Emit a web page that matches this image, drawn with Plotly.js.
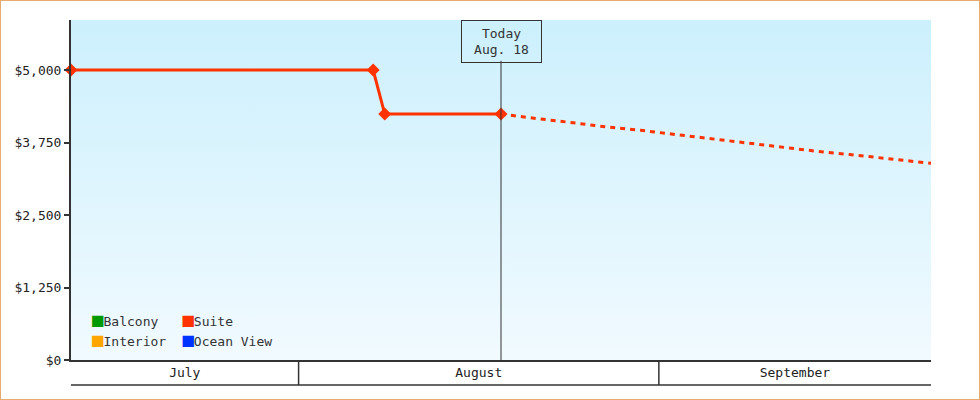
<!DOCTYPE html>
<html>
<head>
<meta charset="utf-8">
<script src="https://cdn.plot.ly/plotly-3.0.1.min.js"></script>
<style>
    html, body { margin: 0; padding: 0; background: #fff; }
    #frame { width: 980px; height: 400px; box-sizing: border-box; border: 1px solid #e9ab6b; }
    #chart { width: 978px; height: 398px; }
</style>
</head>
<body>
<div id="frame"><div id="chart"></div></div>
<script>
// series shown in the legend
var seriesNames = ["Balcony", "Interior", "Suite", "Ocean View"];
var seriesColors = ["#009900", "#ffa500", "#ff3300", "#0033ff"];

// Suite: recorded prices up to today
var suiteDates = ["2019-07-12 10:00", "2019-08-07 10:00", "2019-08-08 10:00", "2019-08-18 10:00"];
var suitePrices = [5000, 5000, 4240, 4240];

// Suite: forecast after today
var forecastDates = ["2019-08-18 10:00", "2019-08-19 10:00", "2019-08-21 10:00", "2019-08-24 10:00",
    "2019-08-27 10:00", "2019-08-30 10:00", "2019-09-02 10:00", "2019-09-05 10:00",
    "2019-09-08 10:00", "2019-09-11 10:00", "2019-09-14 10:00", "2019-09-17 10:00",
    "2019-09-20 10:00", "2019-09-23 10:00", "2019-09-24 10:00"];
var forecastPrices = [4240, 4212, 4165, 4095, 4020, 3960, 3888, 3819, 3750, 3681, 3603, 3543, 3483, 3414, 3391];

var todayDate = "2019-08-18 10:00";
var todayLabel = "Today<br>Aug. 18";

var monthNames = ["July", "August", "September"];
var monthMids = ["2019-07-22 05:00", "2019-08-16 12:00", "2019-09-12 17:00"];
var monthStarts = ["2019-08-01", "2019-09-01"];

var xRange = ["2019-07-12 10:00", "2019-09-24 10:00"];
var yTicks = [0, 1250, 2500, 3750, 5000];
var yTickLabels = ["$0", "$1,250", "$2,500", "$3,750", "$5,000"];

var mono = "DejaVu Sans Mono, monospace";
var ink = "#333333";

var plotData = [];

// legend entries: a coloured square glyph in front of the name, two columns
var legendOf = ["legend", "legend", "legend2", "legend2"];
for (var i = 0; i < seriesNames.length; i++)
{
    plotData.push({
        x: [null],
        y: [null],
        name: '<span style="color:' + seriesColors[i] + ';font-size:19px">\u25A0</span>' + seriesNames[i],
        type: "scatter",
        mode: "markers",
        marker: { symbol: "square", size: 1, color: "rgba(0,0,0,0)" },
        legend: legendOf[i],
        hoverinfo: "skip"
    });
}

plotData.push({
    x: forecastDates,
    y: forecastPrices,
    type: "scatter",
    mode: "lines",
    line: { color: seriesColors[2], width: 3, dash: "5px,5px" },
    showlegend: false,
    cliponaxis: false
});

plotData.push({
    x: suiteDates,
    y: suitePrices,
    type: "scatter",
    mode: "lines+markers",
    line: { color: seriesColors[2], width: 3 },
    marker: { symbol: "diamond", size: 10, color: seriesColors[2] },
    showlegend: false,
    cliponaxis: false
});

var gradient = "data:image/svg+xml;utf8," + encodeURIComponent(
    '<svg xmlns="http://www.w3.org/2000/svg" width="100" height="100" preserveAspectRatio="none">' +
    '<defs><linearGradient id="g" x1="0" y1="0" x2="0" y2="1">' +
    '<stop offset="0" stop-color="#ccf0fd"/><stop offset="1" stop-color="#f1faff"/>' +
    '</linearGradient></defs><rect width="100" height="100" fill="url(#g)"/></svg>');

var bandDepth = 25 / 340;

var shapes = [
    { type: "line", xref: "x", yref: "paper", x0: todayDate, x1: todayDate, y0: 0, y1: 0.88,
      line: { color: ink, width: 1 } },
    { type: "line", xref: "paper", yref: "paper", x0: 0, x1: 1, y0: -bandDepth, y1: -bandDepth,
      line: { color: ink, width: 1.5 } }
];
monthStarts.forEach(function (d)
{
    shapes.push({ type: "line", xref: "x", yref: "paper", x0: d, x1: d, y0: 0, y1: -bandDepth,
        line: { color: ink, width: 1.5 } });
});

var legendStyle = {
    xanchor: "left", yanchor: "bottom",
    bgcolor: "rgba(0,0,0,0)", borderwidth: 0,
    font: { family: mono, size: 13, color: ink },
    itemwidth: 30, tracegroupgap: 0
};

var layout = {
    width: 978,
    height: 398,
    margin: { l: 70, r: 48, t: 19, b: 39 },
    paper_bgcolor: "#ffffff",
    plot_bgcolor: "rgba(0,0,0,0)",
    font: { family: mono, size: 13, color: ink },
    showlegend: true,
    xaxis: {
        type: "date",
        range: xRange,
        showgrid: false,
        zeroline: false,
        showline: true,
        linecolor: ink,
        linewidth: 1.5,
        ticks: "",
        tickvals: monthMids,
        ticktext: monthNames,
        tickfont: { family: mono, size: 13, color: "#222" },
        fixedrange: true
    },
    yaxis: {
        range: [0, 5862],
        showgrid: false,
        zeroline: false,
        showline: true,
        linecolor: ink,
        linewidth: 2,
        ticks: "outside",
        ticklen: 5,
        tickwidth: 2,
        tickcolor: ink,
        tickvals: yTicks,
        ticktext: yTickLabels,
        tickfont: { family: mono, size: 13, color: "#222" },
        fixedrange: true
    },
    legend: Object.assign({ x: -0.022, y: 0.012 }, legendStyle),
    legend2: Object.assign({ x: 0.083, y: 0.012 }, legendStyle),
    images: [{
        source: gradient, xref: "paper", yref: "paper",
        x: 0, y: 1, sizex: 1, sizey: 1, sizing: "stretch",
        xanchor: "left", yanchor: "top", layer: "below"
    }],
    shapes: shapes,
    annotations: [{
        x: todayDate, xref: "x", y: 1, yref: "paper", yanchor: "top",
        text: todayLabel, showarrow: false,
        font: { family: mono, size: 13, color: ink },
        bordercolor: ink, borderwidth: 1, borderpad: 3,
        bgcolor: "rgba(0,0,0,0)", width: 73, height: 35
    }],
    hovermode: false
};

Plotly.newPlot("chart", plotData, layout, { displayModeBar: false, staticPlot: true });
</script>
</body>
</html>
